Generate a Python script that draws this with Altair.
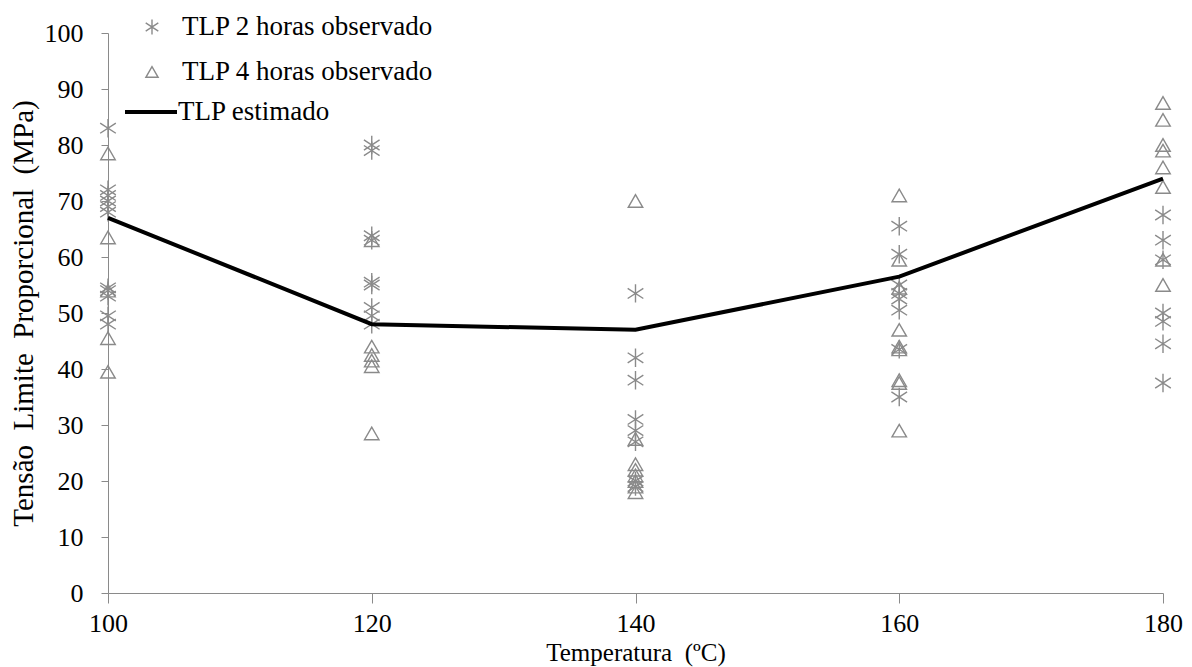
import altair as alt
import pandas as pd

# ---- data ----
temps = [100, 120, 140, 160, 180]

obs2h_temp = ([100] * 11 + [120] * 9 + [140] * 8 + [160] * 8 + [180] * 7)
obs2h_val = [83, 72, 71, 70, 69, 68, 54.5, 54, 53, 49.5, 48,
             80, 79, 63.8, 63, 55.5, 55, 51, 49.5, 48,
             53.5, 42, 38, 31, 29, 27, 20, 19,
             65.5, 60.5, 55, 53.5, 52.5, 50.5, 43.5, 35,
             67.5, 63, 59.5, 50, 48.5, 44.5, 37.5]

obs4h_temp = ([100] * 5 + [120] * 6 + [140] * 8 + [160] * 9 + [180] * 8)
obs4h_val = [78.5, 63.5, 54, 45.5, 39.5,
             63, 44, 42.5, 41.5, 40.5, 28.5,
             70, 27.5, 23, 22, 21, 20, 19, 18,
             71, 59.5, 54.5, 47, 44, 43.5, 38, 37.5, 29,
             87.5, 84.5, 80, 79, 76, 72.5, 59.5, 55]

est_val = [67, 48, 47, 56.5, 74]

legend_labels = ["TLP 2 horas observado", "TLP 4 horas observado", "TLP estimado"]
x_title = "Temperatura\u00a0\u00a0(ºC)"
y_title = "Tensão\u00a0\u00a0Limite\u00a0\u00a0Proporcional\u00a0\u00a0(MPa)"

FONT = "Liberation Serif, Times New Roman, serif"
GRAY = "#8a8a8a"
ASTER = "M0,-1L0,1M-0.85,-0.55L0.85,0.55M-0.85,0.55L0.85,-0.55"

df2 = pd.DataFrame({"t": obs2h_temp, "v": obs2h_val})
df4 = pd.DataFrame({"t": obs4h_temp, "v": obs4h_val})
dfe = pd.DataFrame({"t": temps, "v": est_val})

xscale = alt.Scale(domain=[100, 180], nice=False)
yscale = alt.Scale(domain=[0, 100], nice=False)

xaxis = alt.Axis(values=temps, title=x_title, grid=False, labelFlush=False,
                 tickSize=10, labelPadding=28, labelBaseline="alphabetic",
                 titleY=67, titleBaseline="alphabetic",
                 domainColor=GRAY, tickColor=GRAY, labelFontSize=26, titleFontSize=25)
yaxis = alt.Axis(values=list(range(0, 101, 10)), title=y_title, labelFlush=False,
                 grid=False, tickSize=7, labelPadding=18, titlePadding=6,
                 domainColor=GRAY, tickColor=GRAY, labelFontSize=26, titleFontSize=29)

line = alt.Chart(dfe).mark_line(color="black", strokeWidth=4).encode(
    x=alt.X("t:Q", scale=xscale, axis=xaxis),
    y=alt.Y("v:Q", scale=yscale, axis=yaxis),
)

p2 = alt.Chart(df2).mark_point(shape=ASTER, size=340, filled=False, color=GRAY,
                               strokeWidth=1.4, opacity=1).encode(
    x=alt.X("t:Q", scale=xscale), y=alt.Y("v:Q", scale=yscale))

p4 = alt.Chart(df4).mark_point(shape="triangle-up", size=210, filled=False, color=GRAY,
                               strokeWidth=1.4, opacity=1).encode(
    x=alt.X("t:Q", scale=xscale), y=alt.Y("v:Q", scale=yscale))

# ---- manual legend ----
one = pd.DataFrame({"l": [0]})
leg_s1 = alt.Chart(one).mark_point(shape=ASTER, size=220, filled=False, color=GRAY,
                                   strokeWidth=1.4, opacity=1).encode(
    x=alt.value(44), y=alt.value(-6))
leg_s2 = alt.Chart(one).mark_point(shape="triangle-up", size=150, filled=False, color=GRAY,
                                   strokeWidth=1.4, opacity=1).encode(
    x=alt.value(44), y=alt.value(39))
leg_l = alt.Chart(one).mark_rule(color="black", strokeWidth=4).encode(
    x=alt.value(17), x2=alt.value(69), y=alt.value(79))
leg_t1 = alt.Chart(one).mark_text(text=legend_labels[0], font=FONT, fontSize=27, align="left",
                                  baseline="middle", color="black").encode(
    x=alt.value(74), y=alt.value(-6))
leg_t2 = alt.Chart(one).mark_text(text=legend_labels[1], font=FONT, fontSize=27, align="left",
                                  baseline="middle", color="black").encode(
    x=alt.value(74), y=alt.value(39))
leg_t3 = alt.Chart(one).mark_text(text=legend_labels[2], font=FONT, fontSize=27, align="left",
                                  baseline="middle", color="black").encode(
    x=alt.value(70), y=alt.value(79))

chart = alt.layer(p2, p4, line, leg_s1, leg_s2, leg_l, leg_t1, leg_t2, leg_t3).properties(
    width=1055, height=560,
    autosize=alt.AutoSizeParams(type="none"),
    padding={"left": 108, "top": 33, "right": 29, "bottom": 74},
    background="white",
).configure_view(stroke=None).configure_axis(
    labelFont=FONT, titleFont=FONT,
    labelColor="black", titleColor="black", titleFontWeight="normal",
)

chart.save("out.html", embed_options={"renderer": "svg", "actions": False})
